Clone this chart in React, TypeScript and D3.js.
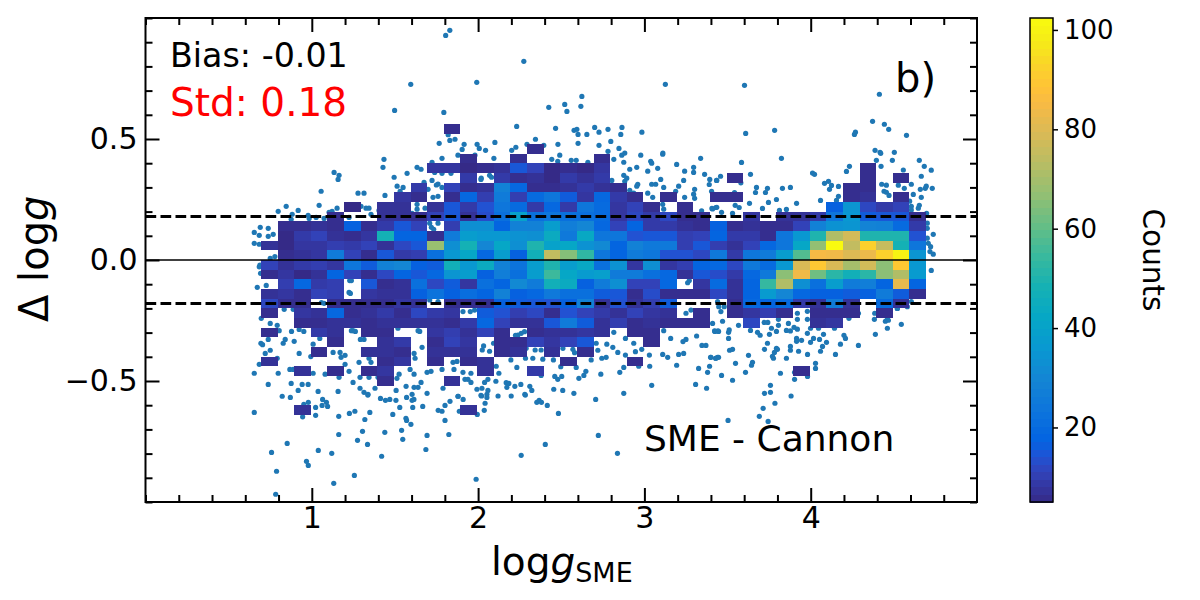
import React, { useRef, useEffect } from 'react';
import * as d3 from 'd3';

const xTicks = [1, 2, 3, 4];
const xMinorTicks = d3.range(0, 25).map(i => i * 0.2);
const yTicks = [-0.5, 0, 0.5];
const yMinorTicks = d3.range(-10, 11).map(i => i * 0.1);
const colorTicks = [20, 40, 60, 80, 100];
const stdLevel = 0.18;

// parula, resampled from the colorbar
const parulaStops = ['#352a87', '#3243ba', '#2053d4', '#0363e1', '#0d75dc', '#1485d4', '#0998d1', '#06a7c6', '#15b1b4', '#38b99e', '#65be86', '#92bf73', '#b7bd64', '#d9ba56', '#f8ba44', '#ffc337', '#fcce2e', '#f5eb18', '#f9fb0e'];
const parulaPositions = [0, 4, 6, 8, 12, 16, 20, 24, 28, 32, 36, 40, 44, 48, 52, 54, 56, 60, 63];
const countMin = 5;
const countMax = 102.4;

// 2d histogram: first cell starts at logg 0.694, cells 0.1 wide and 0.04 tall
const binX0 = 0.694;
const binW = 0.1;
const binH = 0.04;
const rowTop = 13; // bottom edge of first row = rowTop * binH
const histCounts = [
  [0,0,0,0,0,0,0,0,0,0, 0,6,0,0,0,0,0,0,0,0, 0,0,0,0,0,0,0,0,0,0, 0,0,0,0,0,0,0,0,0,0],
  [0,0,0,0,0,0,0,0,0,0, 0,0,0,0,0,0,0,0,0,0, 0,0,0,0,0,0,0,0,0,0, 0,0,0,0,0,0,0,0,0,0],
  [0,0,0,0,0,0,0,0,0,0, 0,0,0,0,0,0,6,0,0,0, 0,0,0,0,0,0,0,0,0,0, 0,0,0,0,0,0,0,0,0,0],
  [0,0,0,0,0,0,0,0,0,0, 0,0,6,0,0,6,0,0,0,0, 6,0,0,0,0,0,0,0,0,0, 0,0,0,0,0,0,0,0,0,0],
  [0,0,0,0,0,0,0,0,0,0, 8,8,5,6,7,15,11,5,6,5, 8,0,0,0,0,0,0,0,0,0, 0,0,0,0,0,0,6,0,0,0],
  [0,0,0,0,0,0,0,0,0,0, 0,0,9,0,9,6,7,5,9,7, 9,0,0,0,0,0,0,0,6,0, 0,0,0,0,0,0,6,0,6,0],
  [0,0,0,0,0,0,0,0,0,9, 0,11,6,7,28,19,6,6,7,9, 7,6,0,0,0,0,0,0,0,0, 0,0,0,0,0,6,6,0,0,0],
  [0,0,0,0,0,0,0,0,8,6, 0,6,19,10,26,10,20,24,16,8, 19,9,6,0,6,0,0,6,6,0, 0,0,0,0,0,6,7,0,6,0],
  [0,0,0,0,0,5,0,7,7,0, 7,15,9,14,24,20,9,19,9,24, 20,8,11,6,0,6,0,0,0,0, 0,0,0,0,17,35,12,9,11,0],
  [0,0,0,0,6,0,0,7,7,6, 11,15,7,13,22,40,22,24,22,22, 20,8,12,9,12,6,6,0,0,8, 0,7,7,9,24,36,16,15,15,6],
  [0,6,6,7,6,17,6,9,15,11, 0,10,33,33,18,28,28,38,27,30, 19,11,18,9,9,7,6,17,6,7, 6,6,11,28,34,35,29,28,20,9],
  [0,5,9,11,7,6,8,48,18,18, 6,26,38,36,36,34,33,44,25,43, 24,24,14,15,15,10,11,18,9,9, 6,24,36,50,72,78,50,50,50,14],
  [7,5,8,8,10,9,11,7,12,15, 68,33,48,30,42,33,50,40,42,34, 31,18,28,25,25,10,15,10,7,11, 19,24,42,67,102,75,92,76,48,24],
  [0,6,7,8,26,11,6,15,9,10, 22,36,42,19,38,17,47,75,65,53, 24,18,26,24,14,14,12,25,9,24, 26,38,58,85,84,80,83,92,100,35],
  [11,7,9,10,8,24,16,28,30,17, 16,47,36,44,28,23,38,50,38,43, 22,34,8,33,8,10,18,19,12,25, 20,36,79,90,79,70,78,66,90,36],
  [6,8,5,7,18,11,6,12,18,15, 19,35,38,17,27,22,38,55,42,37, 39,26,26,22,19,7,15,13,9,19, 25,66,84,62,52,47,52,66,72,37],
  [0,10,19,9,10,0,15,6,7,22, 12,16,8,22,18,31,26,47,44,17, 26,33,11,11,19,0,8,20,7,18, 54,72,33,22,38,26,27,18,82,18],
  [7,8,6,11,10,0,8,7,7,17, 23,17,21,18,28,17,19,25,22,22, 16,15,6,13,6,6,6,12,7,18, 37,30,19,17,17,16,17,26,16,6],
  [12,6,6,0,6,6,6,6,8,7, 0,6,6,6,17,16,15,14,17,28, 7,14,7,10,16,0,0,0,6,19, 18,20,9,7,26,7,0,20,7,0],
  [6,0,8,7,19,6,7,9,6,12, 9,8,0,16,14,10,12,6,14,11, 9,7,11,8,7,0,6,0,6,8, 10,6,0,6,6,6,0,6,0,0],
  [0,0,6,6,7,7,6,7,7,7, 7,6,9,19,11,7,7,15,26,16, 7,10,6,7,6,6,6,0,0,12, 0,0,0,7,8,0,0,0,0,0],
  [6,0,0,9,7,0,6,6,0,0, 8,10,7,11,6,0,6,7,7,8, 7,0,6,6,0,0,0,0,0,0, 0,0,0,0,0,0,0,0,0,0],
  [0,0,0,0,6,0,0,7,9,0, 6,11,8,0,6,6,11,8,11,15, 0,0,0,6,0,0,0,0,0,0, 0,0,0,0,0,0,0,0,0,0],
  [0,0,0,6,0,0,7,7,6,0, 7,7,7,0,6,7,0,7,0,6, 0,0,0,0,0,0,0,0,0,0, 0,0,0,0,0,0,0,0,0,0],
  [7,0,0,0,0,0,0,6,8,0, 6,0,6,7,0,0,0,0,6,0, 0,0,6,0,0,0,0,0,0,0, 0,0,0,0,0,0,0,0,0,0],
  [0,0,7,0,6,0,6,8,0,0, 0,0,0,7,0,0,9,0,0,0, 0,0,0,0,0,0,0,0,0,0, 0,0,6,0,0,0,0,0,0,0],
  [0,0,0,0,0,0,0,6,0,0, 0,7,0,0,0,0,0,0,0,0, 0,0,0,0,0,0,0,0,0,0, 0,0,0,0,0,0,0,0,0,0],
  [0,0,0,0,0,0,0,0,0,0, 0,0,0,0,0,0,0,0,0,0, 0,0,0,0,0,0,0,0,0,0, 0,0,0,0,0,0,0,0,0,0],
  [0,0,0,0,0,0,0,0,0,0, 0,0,0,0,0,0,0,0,0,0, 0,0,0,0,0,0,0,0,0,0, 0,0,0,0,0,0,0,0,0,0],
  [0,0,7,0,0,0,0,0,0,0, 0,0,7,0,0,0,0,0,0,0, 0,0,0,0,0,0,0,0,0,0, 0,0,0,0,0,0,0,0,0,0],
];

// stars outside the dense region, read by eye: [logg_SME, delta logg]
const outliersHigh: [number, number][] = [
  [1.83,.949],[1.805,.928],[2.275,.821],[1.595,.726],[1.992,.734],[3.126,.726],[3.602,.722],[4.413,.685],[1.498,.618],[1.794,.61],
  [2.624,.676],[2.425,.631],[2.521,.643],[2.618,.635],[2.534,.614],[2.232,.552],[2.466,.544],[2.577,.536],[2.594,.54],[2.701,.548],
  [2.781,.54],[2.865,.548],[2.727,.528],[2.601,.519],[2.654,.519],[2.858,.519],[2.985,.528],[3.609,.523],[3.783,.536],[4.269,.528],
  [4.263,.519],[4.372,.573],[4.443,.561],[4.469,.54],[4.576,.515],[1.82,.518],[1.766,.482],[1.83,.494],[1.861,.499],[1.916,.478],
  [1.904,.457],[1.994,.478],[2.007,.461],[2.045,.453],[2.101,.486],[2.227,.466],[2.202,.453],[2.294,.478],[2.345,.499],[2.395,.474],
  [2.48,.478],[2.601,.482],[2.727,.474],[2.798,.49],[2.847,.461],[2.781,.449],[2.882,.442],[3.111,.442],[4.387,.453],[4.417,.445],[4.503,.445],
  [4.421,.441],[4.491,.412],[4.423,.387],[4.653,.412],[4.683,.387],[4.725,.371],[4.665,.346],[4.557,.372],[4.427,.313],[4.455,.309],
  [4.527,.309],[4.563,.296],[4.605,.313],[4.659,.292],[4.689,.296],[4.695,.305],[4.731,.296],[4.617,.271],[4.665,.259],[4.441,.284],
  [4.455,.28],[4.471,.267],[4.595,.243],[4.605,.222],[4.605,.207],[4.653,.226],[4.647,.214],[4.697,.193],[4.701,.152],[4.701,.131],
  [4.737,.106],[4.701,.09],[4.707,.069],[4.721,.055],[4.717,.035],[4.737,.024],[4.725,-.043],
  [4.395,.412],[3.584,.403],[3.824,.42],[4.233,.387],[4.215,.366],[4.011,.359],[4.023,.354],[3.638,.354],[3.458,.346],[3.434,.329],
  [3.58,.319],[3.39,.312],[4.107,.325],[4.083,.317],[4.125,.308],[4.113,.292],[4.167,.304],[3.674,.3],[3.668,.279],[3.74,.296],
  [3.728,.279],[3.83,.296],[3.878,.3],[3.404,.284],[3.542,.279],[3.794,.25],[3.746,.238],[3.632,.234],[3.915,.234],[4.059,.246],
  [4.167,.263],[4.155,.246],[3.43,.217],[3.406,.213],[3.53,.193],[3.464,.197],[3.57,.217],[3.546,.226],[3.812,.205],[3.854,.209],[3.71,.213],
  [2.864,.433],[2.491,.433],[2.443,.416],[2.479,.408],[2.095,.42],[2.56,.412],[2.59,.412],[2.66,.404],[2.816,.416],[2.876,.404],
  [2.978,.433],[3.11,.437],[3.338,.42],[3.194,.395],[3.038,.408],[3.044,.4],[3.296,.383],[3.296,.362],[3.242,.367],[2.912,.375],
  [2.954,.383],[3.02,.367],[3.08,.379],[3.362,.354],[2.876,.35],[2.894,.338],[2.882,.325],[2.804,.329],[3.098,.333],[3.236,.329],
  [3.435,.329],[3.393,.333],[3.044,.313],[3.068,.313],[2.96,.313],[2.954,.305],[3.206,.305],[3.116,.3],[3.302,.292],[2.912,.288],
  [3.188,.284],[2.936,.276],[3.02,.276],[3.296,.272],[3.302,.255],[3.242,.259],[3.11,.23],[3.116,.21],[3.05,.259],[3.26,.22],
  [3.344,.203],[3.41,.211],[3.435,.218],[2.019,.338],[2.069,.35],[2.081,.342],
  [1.434,.416],[1.428,.383],[1.134,.362],[1.164,.35],[1.158,.333],[1.056,.284],[1.278,.276],[1.314,.276],[1.044,.226],[1.152,.214],
  [1.122,.201],[1.104,.197],[.846,.222],[.798,.201],[.918,.205],[.882,.189],[.978,.185],[1.026,.176],[1.074,.172],[.876,.168],[.984,.172],
  [.69,.135],[.738,.131],[.654,.114],[.684,.102],[.738,.098],[.768,.106],[.654,.069],[.684,.065],[.714,.061],[.75,.007],[.778,.014],
  [1.296,.222],[1.326,.214],[1.344,.214],[1.356,.189],[1.224,.176],[1.44,.267],[1.495,.342],[1.513,.305],[1.549,.3],[1.573,.358],
  [1.531,.284],[1.633,.383],[1.657,.375],[1.675,.321],[1.723,.329],[1.723,.404],[1.879,.433],[1.981,.433],[1.783,.42],[1.735,.383],
  [1.837,.358],[1.783,.358],[1.739,.362],[2.017,.333],[1.759,.314],[1.749,.31],[1.783,.3],[1.699,.292],[1.729,.259],[1.759,.263],
  [1.633,.23],[1.681,.214],[1.633,.21],[1.603,.193],[1.404,.205],[1.428,.182],[1.709,.152],[1.719,.135],[1.733,.127],[1.759,.152],[1.759,.172],
];

const outliersLow: [number, number][] = [
  [.654,-.63],[.945,-.648],[.979,-.588],[.952,-.597],[.822,-.563],[.871,-.568],[1.023,-.609],[1.023,-.642],[1.062,-.601],[1.065,-.576],
  [1.088,-.588],[1.095,-.605],[1.162,-.646],[1.226,-.634],[1.259,-.625],[1.349,-.63],[1.319,-.659],[1.337,-.558],[1.413,-.572],[1.443,-.58],
  [1.469,-.576],[1.506,-.58],[1.57,-.568],[1.603,-.58],[1.614,-.576],[1.529,-.609],[1.607,-.609],[1.667,-.605],[1.487,-.638],[1.566,-.654],
  [1.57,-.663],[1.596,-.679],[1.76,-.621],[1.783,-.625],[1.801,-.601],[1.831,-.584],[1.88,-.563],[1.91,-.576],[1.887,-.625],[1.801,-.663],
  [1.995,-.638],[2.037,-.621],[2.042,-.592],[2.021,-.562],[2.053,-.568],[2.12,-.562],[2.199,-.562],[2.284,-.558],[2.353,-.588],[2.367,-.58],
  [2.381,-.588],[2.416,-.601],[2.483,-.634],[2.707,-.576],[3.503,-.663],[3.691,-.646],[3.714,-.613],[3.744,-.667],[3.785,-.592],[3.882,-.562],
  [1.305,-.708],[1.439,-.712],[1.54,-.704],[1.162,-.721],[1.547,-.741],[1.693,-.725],[1.824,-.721],[1.275,-.745],[1.335,-.762],[.852,-.758],
  [1.039,-.787],[1.12,-.799],[.758,-.795],[1.686,-.783],[1.42,-.811],[.968,-.832],[.979,-.849],[.788,-.873],[1.256,-.89],[1.132,-.923],
  [.783,-.968],[1.988,-.906],[2.723,-.725],[2.404,-.762],[2.259,-.807],[2.838,-.799],
  [.672,-.113],[.726,-.105],[.696,-.241],[.75,-.262],[.792,-.27],[.804,-.292],[.878,-.295],[.924,-.287],[.952,-.295],[.834,-.204],
  [.888,-.204],[.738,-.328],[.694,-.344],[.704,-.35],[.828,-.344],[.84,-.328],[.894,-.336],[1.008,-.348],[1.048,-.324],[1.248,-.292],
  [1.238,-.292],[1.262,-.295],[1.292,-.328],[1.314,-.328],[1.518,-.282],[1.639,-.292],[1.649,-.295],[1.615,-.386],[1.663,-.361],[1.621,-.406],
  [.75,-.373],[.72,-.386],[.924,-.386],[.994,-.399],[1.128,-.382],[1.17,-.382],[1.2,-.394],[1.176,-.402],[1.284,-.423],[1.344,-.406],
  [1.356,-.423],[.684,-.431],[.792,-.406],[.654,-.468],[.798,-.468],[.868,-.452],[.888,-.452],[1.008,-.468],[1.08,-.472],[1.2,-.431],
  [1.224,-.46],[1.164,-.485],[1.29,-.485],[1.344,-.485],[1.398,-.485],[1.525,-.472],[1.512,-.489],[1.591,-.452],[1.615,-.472],[1.693,-.464],
  [1.717,-.46],[1.783,-.452],[1.855,-.452],[1.873,-.419],[1.849,-.423],[1.909,-.464],[1.957,-.468],[1.921,-.493],[1.939,-.493],[1.957,-.506],
  [.738,-.514],[.876,-.51],[.942,-.514],[.978,-.514],[.918,-.539],[1.038,-.543],[1.158,-.543],[1.248,-.506],[1.29,-.53],[1.314,-.547],
  [1.338,-.555],[1.38,-.53],[1.507,-.539],[1.567,-.522],[1.615,-.526],[1.639,-.526],[1.657,-.506],[1.603,-.555],[1.693,-.551],[1.789,-.53],
  [1.879,-.563],[1.993,-.534],[2.017,-.559],[2.053,-.555],[.688,-.021],[.684,-.028],[.692,-.055],
  [1.228,-.085],[1.238,-.085],[1.224,-.134],[1.232,-.138],[1.058,-.176],[1.074,-.179],[1.759,-.172],[1.709,-.165],[1.909,-.213],[1.953,-.213],[1.979,-.207],
  [2.239,-.31],[2.225,-.311],[2.259,-.303],[2.279,-.296],[2.033,-.355],[2.025,-.372],[2.069,-.377],[2.093,-.344],[2.343,-.372],[2.379,-.372],
  [2.289,-.365],[2.51,-.365],[2.57,-.369],[2.58,-.383],[2.71,-.344],[2.774,-.348],[2.81,-.361],[2.84,-.382],[2.72,-.373],[2.886,-.324],
  [2.936,-.344],[2.946,-.379],[2.984,-.369],[3.03,-.393],[2.816,-.299],[3.158,-.324],[3.25,-.328],[3.232,-.337],[3.314,-.314],[3.346,-.353],
  [3.37,-.353],[3.116,-.292],[3.14,-.402],[3.11,-.39],[3.236,-.386],[3.206,-.39],[2.886,-.393],[2.77,-.402],[2.744,-.406],[2.68,-.413],
  [2.59,-.444],[2.497,-.441],[2.453,-.413],[2.389,-.41],[2.329,-.406],[2.285,-.406],[2.197,-.413],[2.109,-.439],[2.233,-.444],[2.125,-.468],
  [2.059,-.493],[2.039,-.506],[2.023,-.53],[2.059,-.539],[2.107,-.501],[2.169,-.507],[2.185,-.51],[2.173,-.526],[2.221,-.522],[2.257,-.514],
  [2.281,-.555],[2.311,-.522],[2.323,-.539],[2.379,-.477],[2.461,-.481],[2.479,-.493],[2.503,-.481],[2.455,-.534],[2.509,-.539],[2.576,-.551],
  [2.606,-.489],[2.636,-.477],[2.648,-.46],[2.738,-.472],[2.852,-.464],[2.876,-.444],[2.876,-.551],[3.044,-.518],[3.032,-.439],[2.966,-.439],
  [3.194,-.435],[3.308,-.514],[3.374,-.53],[3.326,-.448],[3.38,-.464],[3.392,-.439],[3.398,-.402],[3.44,-.402],[3.428,-.406],[3.41,-.262],
  [3.422,-.293],[3.442,-.293],[3.26,-.094],[3.27,-.085],[3.25,-.22],[3.28,-.207],[3.44,-.172],[3.447,-.193],
  [3.46,-.213],[3.48,-.193],[3.47,-.253],[3.566,-.27],[3.424,-.295],[3.446,-.295],[3.51,-.289],[3.506,-.299],[3.506,-.324],[3.638,-.291],
  [3.68,-.299],[3.696,-.311],[3.72,-.258],[3.742,-.258],[3.764,-.282],[3.806,-.27],[3.794,-.295],[3.752,-.307],[3.854,-.291],[3.878,-.293],
  [3.9,-.278],[3.92,-.286],[3.866,-.262],[3.806,-.245],[3.92,-.245],[3.98,-.245],[3.98,-.212],[3.92,-.22],[3.98,-.303],[3.915,-.324],
  [3.915,-.336],[3.945,-.332],[3.999,-.34],[4.017,-.324],[4.053,-.328],[4.077,-.307],[4.095,-.34],[4.071,-.357],[4.059,-.377],[3.999,-.282],
  [4.047,-.282],[4.143,-.282],[4.2,-.311],[4.209,-.324],[4.179,-.348],[4.149,-.39],[4.287,-.353],[4.389,-.307],[4.461,-.282],[4.545,-.266],
  [4.383,-.245],[4.449,-.253],[4.467,-.249],[4.521,-.2],[4.581,-.193],[4.23,-.241],[4.287,-.22],[4.385,-.22],[3.74,-.344],[3.722,-.369],
  [3.794,-.365],[3.8,-.369],[3.782,-.382],[3.77,-.398],[3.776,-.406],[3.854,-.406],[3.878,-.357],[3.878,-.373],[3.927,-.377],[3.981,-.39],
  [3.512,-.373],[3.53,-.369],[3.626,-.394],[3.4,-.402],[3.43,-.406],[3.446,-.402],[3.548,-.427],[3.65,-.423],[3.644,-.435],[3.608,-.464],
  [3.464,-.477],[3.53,-.497],[3.818,-.468],[3.903,-.493],[3.903,-.464],[3.981,-.481],[4.029,-.427],[4.029,-.448],[3.758,-.518],[3.758,-.547],
  [3.722,-.551],[4.605,-.172],[4.521,-.2],[4.461,-.244],
];

const FONT = '"DejaVu Sans", sans-serif';
const BLUE = '#1f77b4';

export default function App() {
  const svgRef = useRef<SVGSVGElement>(null);

  useEffect(() => {
    if (!svgRef.current) return;
    const svg = d3.select(svgRef.current);
    svg.selectAll('*').remove();

    const left = 145.5, right = 977, top = 18, bottom = 502;
    const x = d3.scaleLinear().domain([0, 5]).range([left, right]);
    const y = d3.scaleLinear().domain([-1, 1]).range([bottom, top]);
    const color = d3.scaleLinear<string>()
      .domain(parulaPositions.map(p => countMin + (countMax - countMin) * p / 63))
      .range(parulaStops)
      .clamp(true);

    // Scatter goes under the histogram
    svg.append('g').selectAll('circle')
      .data([...outliersHigh, ...outliersLow])
      .join('circle')
      .attr('cx', d => x(d[0]))
      .attr('cy', d => y(d[1]))
      .attr('r', 2.6)
      .attr('fill', BLUE);

    // Histogram cells
    const cells = svg.append('g').attr('shape-rendering', 'crispEdges');
    histCounts.forEach((row, r) => {
      const low = (rowTop - r) * binH;
      row.forEach((count, c) => {
        if (!count) return;
        const x0 = binX0 + c * binW;
        cells.append('rect')
          .attr('x', x(x0))
          .attr('width', x(x0 + binW) - x(x0))
          .attr('y', y(low + binH))
          .attr('height', y(low) - y(low + binH))
          .attr('fill', color(count));
      });
    });

    // Reference lines
    svg.append('line')
      .attr('x1', left).attr('x2', right).attr('y1', y(0)).attr('y2', y(0))
      .attr('stroke', 'black').attr('stroke-width', 1.5);
    [stdLevel, -stdLevel].forEach(v => {
      svg.append('line')
        .attr('x1', left).attr('x2', right).attr('y1', y(v)).attr('y2', y(v))
        .attr('stroke', 'black').attr('stroke-width', 3)
        .attr('stroke-dasharray', '10.7 4.3');
    });

    // Axes, all ticks point inwards
    const styleAxis = (g: any, fontSize: number) => {
      g.select('.domain').remove();
      g.selectAll('line').attr('stroke', 'black').attr('stroke-width', 2);
      g.selectAll('text').attr('fill', 'black').attr('font-family', FONT).attr('font-size', fontSize);
    };
    const minorX = xMinorTicks.filter(t => !xTicks.includes(Math.round(t * 10) / 10));
    const minorY = yMinorTicks.filter(t => !yTicks.includes(Math.round(t * 10) / 10));
    const addX = (gen: any, pos: number, ticks: number[], size: number, labels: boolean) => {
      const axis = gen(x).tickValues(ticks).tickSize(-size).tickPadding(5)
        .tickFormat((d: number) => (labels ? String(d) : ''));
      svg.append('g').attr('transform', `translate(0,${pos})`).call(axis).call(styleAxis, 30);
    };
    const addY = (gen: any, pos: number, ticks: number[], size: number, labels: boolean) => {
      const axis = gen(y).tickValues(ticks).tickSize(-size).tickPadding(8)
        .tickFormat((d: number) => (labels ? d3.format('.1f')(d).replace('-', '\u2212') : ''));
      svg.append('g').attr('transform', `translate(${pos},0)`).call(axis).call(styleAxis, 30);
    };
    addX(d3.axisBottom, bottom, xTicks, 14, true);
    addX(d3.axisBottom, bottom, minorX, 7, false);
    addX(d3.axisTop, top, xTicks, 14, false);
    addX(d3.axisTop, top, minorX, 7, false);
    addY(d3.axisLeft, left, yTicks, 14, true);
    addY(d3.axisLeft, left, minorY, 7, false);
    addY(d3.axisRight, right, yTicks, 14, false);
    addY(d3.axisRight, right, minorY, 7, false);

    svg.append('rect')
      .attr('x', left).attr('y', top).attr('width', right - left).attr('height', bottom - top)
      .attr('fill', 'none').attr('stroke', 'black').attr('stroke-width', 2);

    // Labels inside the panel
    const label = (tx: number, ty: number, text: string, size: number, fill = 'black') =>
      svg.append('text').attr('x', tx).attr('y', ty).text(text)
        .attr('font-family', FONT).attr('font-size', size).attr('fill', fill);
    label(170, 67, 'Bias: -0.01', 33.3);
    label(170, 116, 'Std: 0.18', 39, '#ff0000');
    label(895, 92, 'b)', 40);
    label(644, 451, 'SME - Cannon', 36);

    // Axis titles
    const xTitle = svg.append('text').attr('x', 491).attr('y', 575)
      .attr('font-family', FONT).attr('font-size', 39);
    xTitle.append('tspan').text('log');
    xTitle.append('tspan').text('g').attr('font-style', 'italic');
    xTitle.append('tspan').text('SME').attr('font-size', 27).attr('dy', 7);

    const yTitle = svg.append('text')
      .attr('transform', 'translate(48,322) rotate(-90)')
      .attr('font-family', FONT).attr('font-size', 40);
    yTitle.append('tspan').text('\u0394 log');
    yTitle.append('tspan').text('g').attr('font-style', 'italic');

    // Colorbar
    const cbLeft = 1030, cbRight = 1053;
    const cb = d3.scaleLinear().domain([countMin, countMax]).range([bottom, top]);
    const levels = d3.range(64);
    svg.append('g').attr('shape-rendering', 'crispEdges').selectAll('rect')
      .data(levels)
      .join('rect')
      .attr('x', cbLeft)
      .attr('width', cbRight - cbLeft)
      .attr('y', d => cb(countMin + (countMax - countMin) * (d + 1) / 64))
      .attr('height', (bottom - top) / 64 + 0.5)
      .attr('fill', d => color(countMin + (countMax - countMin) * (d + 0.5) / 64));
    svg.append('rect')
      .attr('x', cbLeft).attr('y', top).attr('width', cbRight - cbLeft).attr('height', bottom - top)
      .attr('fill', 'none').attr('stroke', 'black').attr('stroke-width', 1.5);
    const cbAxis = d3.axisRight(cb).tickValues(colorTicks).tickSize(5).tickPadding(6)
      .tickFormat(d => String(d));
    svg.append('g').attr('transform', `translate(${cbRight},0)`).call(cbAxis).call((g: any) => {
      g.select('.domain').remove();
      g.selectAll('line').attr('stroke', 'black').attr('stroke-width', 1.5);
      g.selectAll('text').attr('fill', 'black').attr('font-family', FONT).attr('font-size', 26);
    });
    svg.append('text')
      .attr('transform', 'translate(1143,260) rotate(90)')
      .attr('text-anchor', 'middle')
      .attr('font-family', FONT).attr('font-size', 29.5)
      .text('Counts');
  }, []);

  return (
    <svg
      ref={svgRef}
      width={1200}
      height={600}
      style={{ position: 'absolute', left: 0, top: 0, background: 'white' }}
    />
  );
}
